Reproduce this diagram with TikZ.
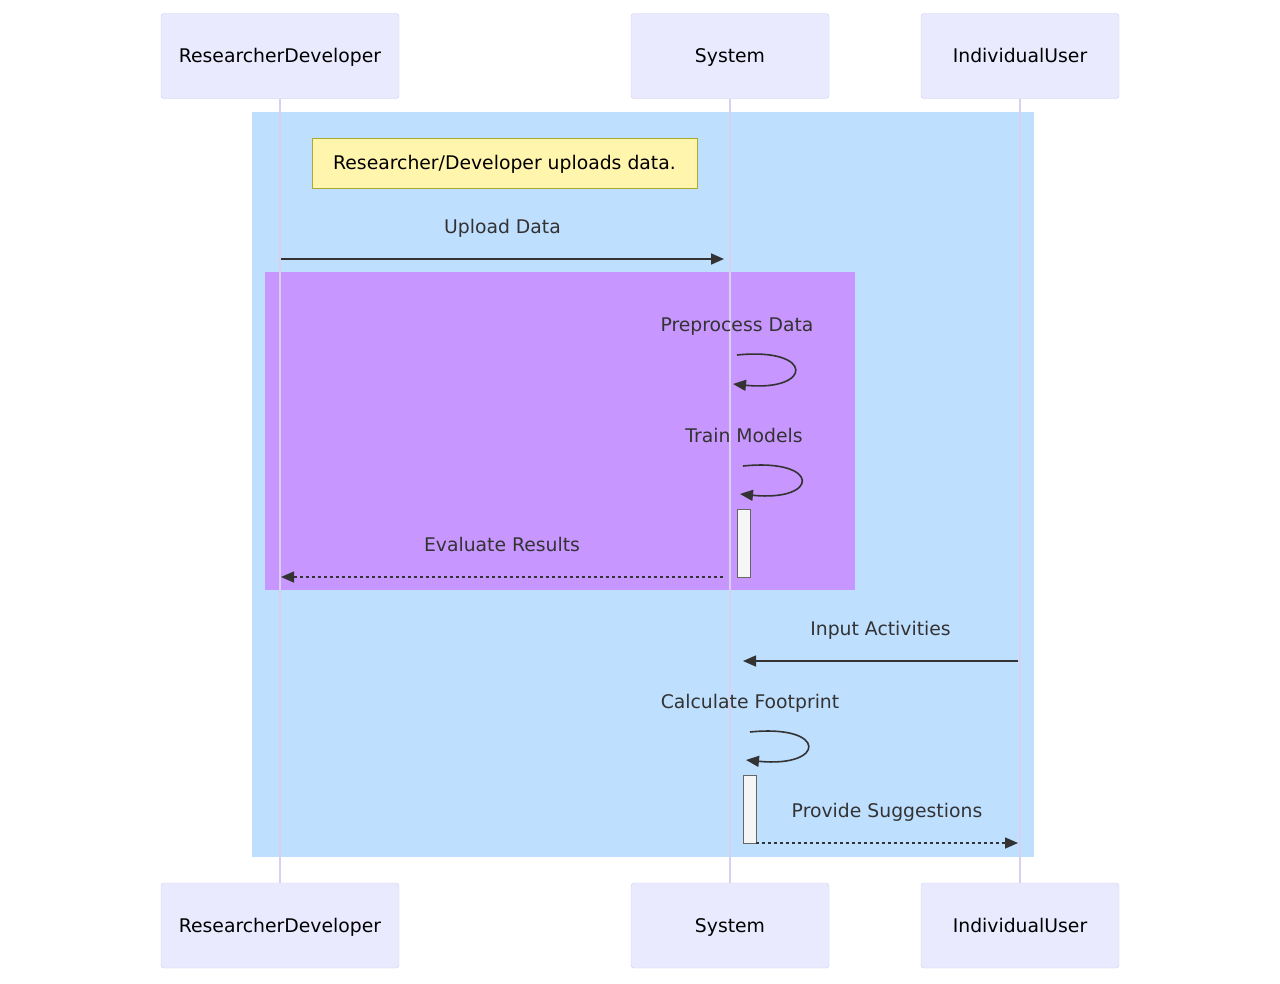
\documentclass[tikz,border=0pt]{standalone}
\usepackage{fontspec}
\setmainfont{DejaVu Sans}
\usepackage{tikz}
\usetikzlibrary{positioning,arrows.meta,calc}
\definecolor{actorfill}{HTML}{EAEAFF}
\definecolor{actorline}{HTML}{CCCCEE}
\definecolor{lifeline}{HTML}{D8D0EE}
\definecolor{outerrect}{HTML}{BFDFFF}
\definecolor{innerrect}{HTML}{C896FF}
\definecolor{notefill}{HTML}{FFF5AD}
\definecolor{noteline}{HTML}{AAAA33}
\definecolor{msgcol}{HTML}{333333}

\begin{document}
\begin{tikzpicture}[
  x=1pt, y=-1pt,
  txt/.style={font=\fontsize{18.8}{22}\selectfont, text height=17.5pt, text depth=4.5pt},
  actor/.style={txt, draw=actorline, fill=actorfill, rounded corners=3pt, minimum width=238pt, minimum height=85pt, text=black},
  note/.style={txt, draw=noteline, fill=notefill, minimum width=385pt, minimum height=50pt, inner sep=0pt, text=black},
  lbl/.style={font=\fontsize{18.8}{22}\selectfont, text height=13.5pt, text depth=4.5pt, inner sep=0pt, text=msgcol},
  act/.style={draw=black!60, fill=black!4, minimum width=13pt, minimum height=68pt, inner sep=0pt},
  life/.style={draw=lifeline, line width=1.5pt},
  arr/.style={-{Triangle[length=13pt,width=11pt]}, draw=msgcol, line width=1.6pt},
  ret/.style={arr, dash pattern=on 3pt off 3pt}]
  \useasboundingbox (0,0) rectangle (1280,983);
  % actors
  \node[actor] (dev) at (280,56) {ResearcherDeveloper};
  \node[actor, minimum width=198pt] (sys) at (730,56) {System};
  \node[actor, minimum width=198pt] (usr) at (1020,56) {IndividualUser};
  \node[actor] (devB) at (280,925.5) {ResearcherDeveloper};
  \node[actor, minimum width=198pt] (sysB) at (730,925.5) {System};
  \node[actor, minimum width=198pt] (usrB) at (1020,925.5) {IndividualUser};
  % boxes behind the messages
  \fill[outerrect] (252,112) rectangle (1034,857);
  \fill[innerrect] (265,272) rectangle (855,590);
  \draw[life] (dev) -- (devB);
  \draw[life] (sys) -- (sysB);
  \draw[life] (usr) -- (usrB);
  \node[note] (upnote) at (504.5,163) {Researcher/Developer uploads data.};
  % messages
  \coordinate (upA) at (281,259);
  \coordinate (upB) at (724,259);
  \draw[arr] (upA) -- node[lbl, above=20pt] {Upload Data} (upB);
  \coordinate (ppA) at (737,355);
  \coordinate (ppB) at (733,384);
  \node[lbl] (pplbl) at (737,327) {Preprocess Data};
  \draw[arr] (ppA) .. controls +(78,-8) and +(80,8) .. (ppB);
  \coordinate (tmA) at (743,466);
  \coordinate (tmB) at (740,494);
  \node[lbl] (tmlbl) at (744,438) {Train Models};
  \draw[arr] (tmA) .. controls +(78,-8) and +(80,8) .. (tmB);
  \node[act] (act1) at (743.5,543) {};
  \coordinate (evA) at (723,577);
  \coordinate (evB) at (281,577);
  \draw[ret] (evA) -- node[lbl, above=20pt] {Evaluate Results} (evB);
  \coordinate (inA) at (1018,661);
  \coordinate (inB) at (743,661);
  \draw[arr] (inA) -- node[lbl, above=20pt] {Input Activities} (inB);
  \coordinate (cfA) at (750,732);
  \coordinate (cfB) at (746,760);
  \node[lbl] (cflbl) at (750,704) {Calculate Footprint};
  \draw[arr] (cfA) .. controls +(78,-8) and +(80,8) .. (cfB);
  \node[act] (act2) at (749.5,809) {};
  \coordinate (psA) at (756,843);
  \coordinate (psB) at (1018,843);
  \draw[ret] (psA) -- node[lbl, above=20pt] {Provide Suggestions} (psB);
\end{tikzpicture}
\end{document}
